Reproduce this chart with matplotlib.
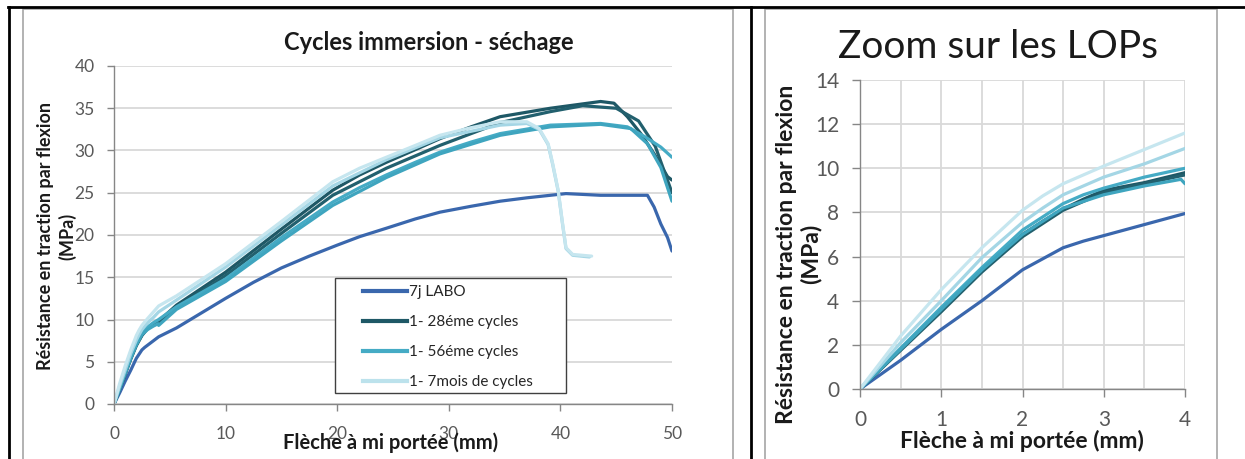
import matplotlib
matplotlib.use("Agg")
import matplotlib.pyplot as plt
from matplotlib.lines import Line2D
from matplotlib.patches import Rectangle

plt.rcParams['font.family'] = ['Lato', 'DejaVu Sans']

# --- data ---
series_names = ['7j LABO', '1- 28éme cycles', '1- 56éme cycles', '1- 7mois de cycles']
series_colors = ['#3A67AD', '#1E5866', '#45ABC5', '#BCE2EC']

x_7j = [0, 0.5, 1, 1.5, 2, 2.25, 2.5, 2.75, 3, 3.5, 4, 5.6, 10, 12.5, 15, 17.5, 20, 22, 24.4, 27, 29.2, 32, 34.6, 37, 39.1, 40.5, 43.6, 47.8, 48.4, 49, 49.6, 50]
y_7j = [0, 1.3, 2.7, 4.0, 5.4, 5.9, 6.4, 6.7, 6.95, 7.45, 7.95, 9.0, 12.5, 14.4, 16.1, 17.5, 18.8, 19.8, 20.8, 21.9, 22.7, 23.4, 24.0, 24.4, 24.7, 24.9, 24.7, 24.7, 23.3, 21.3, 19.7, 18.1]

x_28a = [0, 0.5, 1, 1.5, 2, 2.25, 2.5, 2.75, 3, 3.5, 4, 5.6, 10, 15, 19.6, 22, 24.4, 27, 29.2, 32, 34.6, 39.1, 43.6, 44.8, 46, 47.2, 48.4, 49.6, 50]
y_28a = [0, 1.8, 3.6, 5.4, 7.0, 7.6, 8.15, 8.6, 9.0, 9.35, 9.8, 11.7, 15.6, 20.7, 25.3, 27.1, 28.6, 30.1, 31.4, 32.8, 34.0, 35.0, 35.8, 35.6, 34.0, 32.0, 29.6, 26.9, 26.5]
x_28b = [0, 0.5, 1, 1.5, 2, 2.5, 3, 3.5, 4, 5.6, 10, 15, 19.6, 24.4, 29.2, 34.6, 39.1, 42, 45, 47, 48.5, 50]
y_28b = [0, 1.75, 3.5, 5.3, 6.9, 8.1, 8.9, 9.3, 9.7, 11.4, 15.2, 20.2, 24.7, 27.9, 30.6, 33.3, 34.6, 35.3, 35.0, 33.5, 30.5, 25.0]

x_56a = [0, 0.5, 1, 1.5, 2, 2.25, 2.5, 2.75, 3, 3.5, 4, 5.6, 10, 15, 19.6, 22, 24.4, 27, 29.2, 32, 34.6, 39.1, 43.6, 46, 47.6, 49, 50]
y_56a = [0, 1.85, 3.7, 5.5, 7.2, 7.8, 8.4, 8.8, 9.1, 9.6, 10.0, 11.5, 14.8, 19.7, 23.9, 25.6, 27.1, 28.6, 29.8, 31.0, 32.0, 33.0, 33.2, 32.8, 31.6, 30.4, 29.2]
x_56b = [0, 0.5, 1, 1.5, 2, 2.5, 3, 3.5, 3.95, 4.0, 5.6, 10, 15, 19.6, 24.4, 29.2, 34.6, 39.1, 43.6, 46.3, 47.8, 49, 50]
y_56b = [0, 1.8, 3.6, 5.4, 7.0, 8.2, 8.8, 9.2, 9.5, 9.3, 11.2, 14.5, 19.3, 23.5, 26.8, 29.6, 31.8, 32.8, 33.1, 32.6, 30.8, 28.0, 24.0]

x_7ma = [0, 0.5, 1, 1.5, 2, 2.25, 2.5, 2.75, 3, 3.5, 4, 5.6, 10, 15, 19.6, 22, 24.4, 27, 29.2, 32, 34.6, 37, 38.1, 38.9, 39.3, 39.8, 40.2, 40.5, 41.1, 42.8]
y_7ma = [0, 2.4, 4.5, 6.4, 8.1, 8.75, 9.3, 9.7, 10.1, 10.85, 11.6, 12.8, 16.6, 21.6, 26.3, 27.9, 29.2, 30.6, 31.8, 32.7, 33.4, 33.4, 32.6, 30.8, 28.5, 25.3, 21.3, 18.5, 17.7, 17.5]
x_7mb = [0, 0.5, 1, 1.5, 2, 2.25, 2.5, 2.75, 3, 3.5, 4, 5.6, 10, 15, 19.6, 24.4, 29.2, 34.6, 37, 38.1, 38.9, 39.3, 39.8, 40.2, 40.5, 41.1, 42.6]
y_7mb = [0, 2.1, 4.0, 5.95, 7.55, 8.2, 8.8, 9.2, 9.6, 10.2, 10.9, 12.3, 16.2, 21.2, 25.8, 28.9, 31.5, 33.0, 33.2, 32.5, 30.7, 28.4, 25.2, 21.2, 18.4, 17.6, 17.4]

specimens = [
    (x_7j, y_7j, '#3A67AD'),
    (x_28a, y_28a, '#1E5866'),
    (x_28b, y_28b, '#22606E'),
    (x_56a, y_56a, '#45ABC5'),
    (x_56b, y_56b, '#3FA5BF'),
    (x_7mb, y_7mb, '#A4D6E5'),
    (x_7ma, y_7ma, '#C6E6EF'),
]

W, H = 1245, 459
fig = plt.figure(figsize=(W / 100, H / 100), dpi=100)


def fx(x):
    return x / W


def fy(y):
    return 1 - y / H


# table borders and chart frames
for xs, ys in [([8, W], [7, 7]), ([9, 9], [7, H]), ([751, 751], [7, H])]:
    fig.add_artist(Line2D([fx(v) for v in xs], [fy(v) for v in ys], color='black', lw=2.0))
for x0, x1 in [(23, 733), (765, 1217)]:
    fig.add_artist(Rectangle((fx(x0), fy(H + 5)), fx(x1 - x0), fy(9) - fy(H + 5),
                             fill=False, edgecolor='#A6A6A6', lw=1.2))

grid_c = '#D9D9D9'
axis_c = '#868686'
tick_c = '#595959'
txt_c = '#1a1a1a'

# ---------------- left chart ----------------
ax = fig.add_axes([fx(114), fy(404), fx(672 - 114), fy(66) - fy(404)])
for i, (xs, ys, c) in enumerate(specimens):
    ax.plot(xs, ys, color=c, lw=2.3, zorder=2 + i * 0.01, solid_capstyle='round')
ax.set_xlim(0, 50)
ax.set_ylim(0, 40)
ax.set_xticks(range(0, 51, 10))
ax.set_yticks(range(0, 41, 5))
ax.grid(axis='y', color=grid_c, lw=1.3)
ax.set_axisbelow(True)
for s in ['top', 'right']:
    ax.spines[s].set_visible(False)
for s in ['left', 'bottom']:
    ax.spines[s].set_color(axis_c)
    ax.spines[s].set_linewidth(1.0)
ax.tick_params(direction='out', length=5, width=1, color=axis_c, labelcolor=tick_c, labelsize=12.5)
ax.tick_params(axis='y', pad=9)
ax.tick_params(axis='x', pad=11)

ax.add_patch(Rectangle((0.396, 0.033), 0.414, 0.34, transform=ax.transAxes,
                       facecolor='white', edgecolor='#404040', lw=1.0, zorder=4))
handles = [Line2D([], [], color=c, lw=3) for c in series_colors]
leg = ax.legend(handles, series_names, loc='upper left', bbox_to_anchor=(0.446, 0.352),
                frameon=False, fontsize=11, handlelength=2.9, handletextpad=0.15,
                labelspacing=1.05, borderpad=0, borderaxespad=0)
leg.set_zorder(5)
for t in leg.get_texts():
    t.set_color('#262626')

fig.text(fx(429), fy(43), 'Cycles immersion - séchage', ha='center', va='center',
         fontsize=17, fontweight='bold', color=txt_c)
fig.text(fx(391), fy(443), 'Flèche à mi portée (mm)', ha='center', va='center',
         fontsize=14.5, fontweight='bold', color=txt_c)
fig.text(fx(57), fy(236), 'Résistance en traction par flexion\n(MPa)', ha='center', va='center',
         rotation=90, fontsize=13, fontweight='bold', color=txt_c, linespacing=1.3)

# ---------------- right chart ----------------
ax2 = fig.add_axes([fx(860), fy(389), fx(1185 - 860), fy(80) - fy(389)])
for i, (xs, ys, c) in enumerate(specimens):
    ax2.plot(xs, ys, color=c, lw=2.3, zorder=2 + i * 0.01, solid_capstyle='round')
ax2.set_xlim(0, 4)
ax2.set_ylim(0, 14)
ax2.set_xticks(range(0, 5))
ax2.set_xticks([0.5, 1.5, 2.5, 3.5], minor=True)
ax2.set_yticks(range(0, 15, 2))
ax2.grid(which='both', color=grid_c, lw=1.3)
ax2.set_axisbelow(True)
for s in ['top', 'right']:
    ax2.spines[s].set_visible(False)
for s in ['left', 'bottom']:
    ax2.spines[s].set_color(axis_c)
    ax2.spines[s].set_linewidth(1.0)
ax2.tick_params(direction='out', length=6, width=1, color=axis_c, labelcolor=tick_c, labelsize=15)
ax2.tick_params(which='minor', length=0)
ax2.tick_params(axis='y', pad=9)
ax2.tick_params(axis='x', pad=9)

fig.text(fx(998), fy(47), 'Zoom sur les LOPs', ha='center', va='center',
         fontsize=28, color=txt_c)
fig.text(fx(1022), fy(441), 'Flèche à mi portée (mm)', ha='center', va='center',
         fontsize=16.5, fontweight='bold', color=txt_c)
fig.text(fx(799), fy(254), 'Résistance en traction par flexion\n(MPa)', ha='center', va='center',
         rotation=90, fontsize=16.5, fontweight='bold', color=txt_c, linespacing=1.15)

fig.savefig('out.png', dpi=100)
